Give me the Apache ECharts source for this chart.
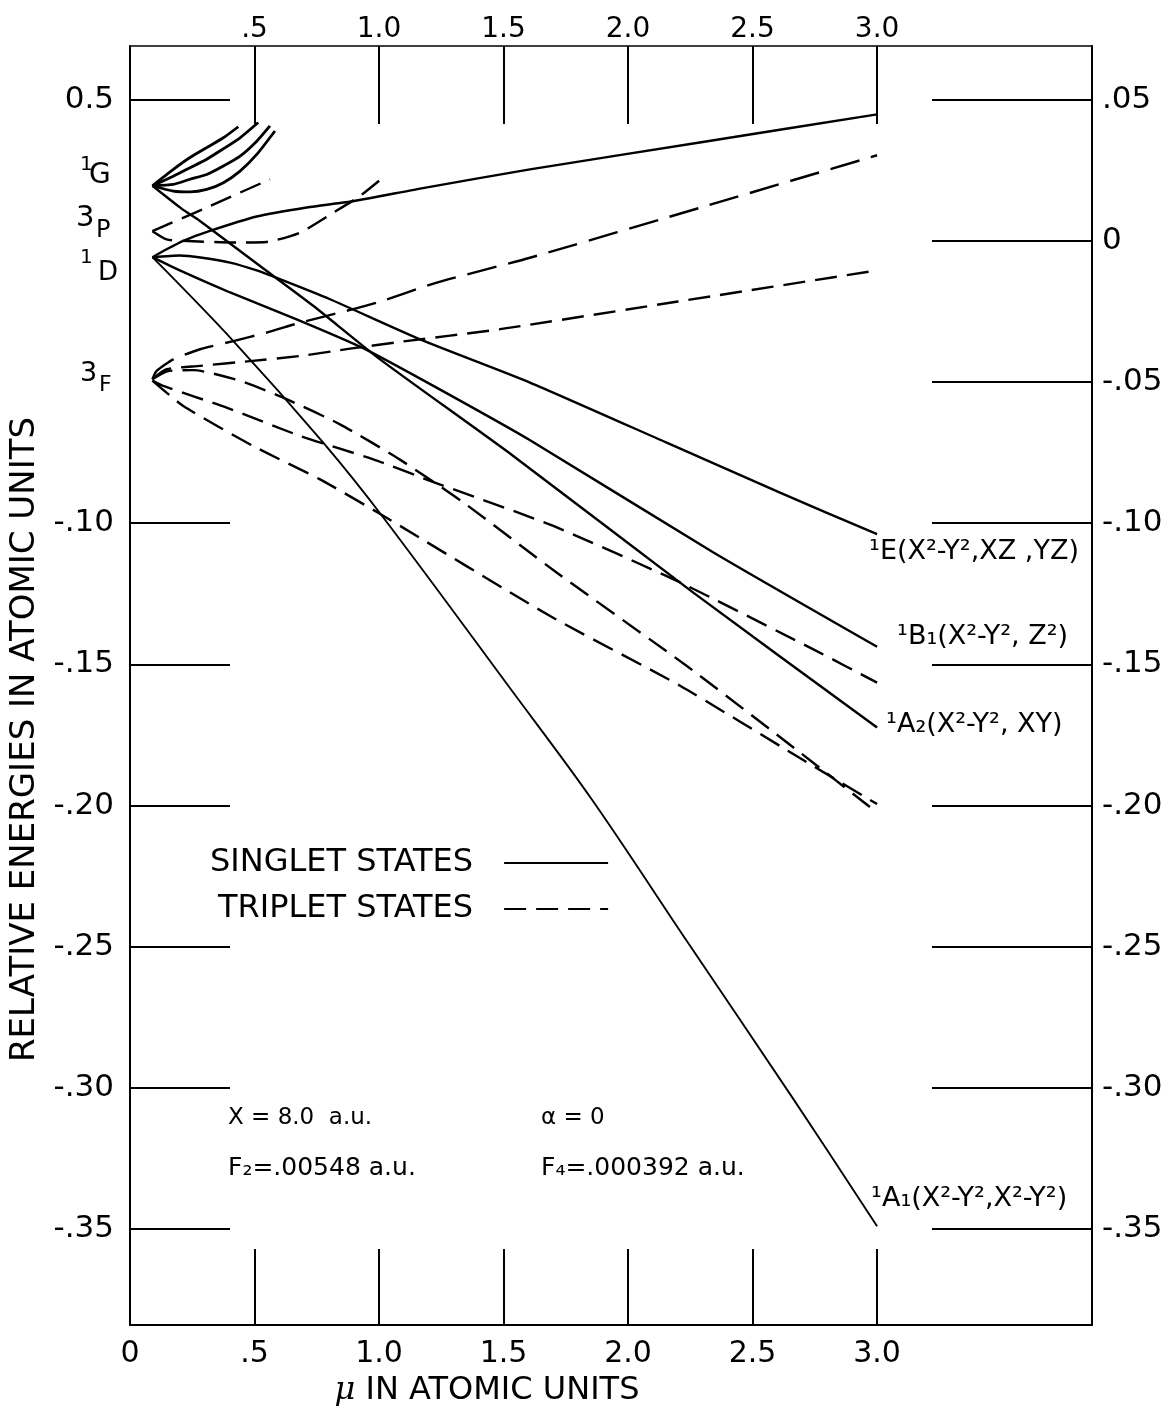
<!DOCTYPE html>
<html>
<head>
<meta charset="utf-8">
<script src="https://cdn.jsdelivr.net/npm/echarts@6/dist/echarts.min.js"></script>
<style>
  html, body { margin: 0; background: #fff; }
  #chart { width: 1173px; height: 1418px; }
</style>
</head>
<body>
<div id="chart"></div>
<script>
// axis ranges (frame of the figure)
const muMin = 0, muMax = 3.863;
const eMin = -0.384, eMax = 0.069;

const xTickValues = [0.5, 1.0, 1.5, 2.0, 2.5, 3.0];
const xLabelValues = [0, 0.5, 1.0, 1.5, 2.0, 2.5, 3.0];
const leftTickValues = [0.05, -0.10, -0.15, -0.20, -0.25, -0.30, -0.35];
const rightTickValues = [0.05, 0, -0.05, -0.10, -0.15, -0.20, -0.25, -0.30, -0.35];

// free ion levels (left side labels)
const levelNames = ['1G', '3P', '1D', '3F'];
const levelValues = [0.0195, 0.0034, -0.0058, -0.049];

// singlet states  [mu, energy]
const gFanA = [[0.09, 0.0195], [0.174, 0.0253], [0.241, 0.0295], [0.308, 0.033], [0.375, 0.0365], [0.435, 0.0404]];
const gFanB = [[0.09, 0.0195], [0.174, 0.0229], [0.241, 0.0259], [0.308, 0.0289], [0.375, 0.0326], [0.442, 0.0365], [0.515, 0.0419]];
const gFanC = [[0.09, 0.0195], [0.174, 0.020], [0.241, 0.0218], [0.308, 0.0235], [0.375, 0.0265], [0.442, 0.030], [0.509, 0.0353], [0.562, 0.0407]];
const gFanD = [[0.09, 0.0195], [0.174, 0.0176], [0.241, 0.0173], [0.308, 0.0182], [0.375, 0.0206], [0.442, 0.0247], [0.509, 0.0306], [0.582, 0.0389]];
const dRise = [[0.09, -0.0058], [0.147, -0.003], [0.214, 0.0], [0.321, 0.0035], [0.509, 0.0086], [0.71, 0.0118], [0.9, 0.0141], [1.165, 0.0185], [1.606, 0.0253], [2.3, 0.035], [3.0, 0.0448]];
const stateE = [[0.09, -0.0058], [0.2, -0.0052], [0.29, -0.006], [0.402, -0.0077], [0.509, -0.0105], [0.602, -0.0136], [0.803, -0.0207], [1.165, -0.0349], [1.606, -0.0502], [2.155, -0.0715], [2.61, -0.0892], [3.0, -0.1039]];
const stateB1 = [[0.09, -0.0058], [0.2, -0.0105], [0.402, -0.0183], [0.669, -0.0278], [0.936, -0.038], [1.2, -0.0505], [1.6, -0.0703], [2.343, -0.1104], [3.0, -0.1438]];
const stateA2 = [[0.09, 0.0195], [0.207, 0.0114], [0.281, 0.0070], [0.549, -0.0107], [0.737, -0.0231], [1.004, -0.042], [1.539, -0.0762], [2.262, -0.1246], [3.0, -0.1724]];
const stateA1 = [[0.09, -0.0058], [0.415, -0.0355], [0.776, -0.0715], [1.017, -0.098], [1.539, -0.160], [1.854, -0.1978], [2.236, -0.248], [2.664, -0.304], [3.0, -0.349]];

// triplet states  [mu, energy]
const pRise = [[0.09, 0.0034], [0.308, 0.0118], [0.562, 0.0218]];
const pBend = [[0.09, 0.0034], [0.147, 0.0005], [0.21, 0.0], [0.415, -0.0006], [0.549, -0.0004], [0.683, 0.0029], [0.817, 0.010], [0.924, 0.0159], [1.031, 0.0235]];
const fUpper = [[0.09, -0.049], [0.107, -0.0461], [0.174, -0.042], [0.281, -0.0384], [0.415, -0.0355], [0.549, -0.0325], [0.683, -0.029], [0.843, -0.0254], [0.991, -0.0219], [1.232, -0.0148], [1.606, -0.006], [2.3, 0.012], [3.0, 0.0303]];
const fMiddle = [[0.09, -0.049], [0.147, -0.0455], [0.281, -0.0443], [0.482, -0.0426], [0.683, -0.0408], [0.884, -0.0382], [1.084, -0.0358], [1.486, -0.0313], [2.2, -0.0215], [3.0, -0.0105]];
const fLowA = [[0.09, -0.049], [0.15, -0.0462], [0.254, -0.0458], [0.442, -0.0496], [0.629, -0.0561], [0.843, -0.065], [1.084, -0.0775], [1.339, -0.0927], [1.713, -0.1175], [2.236, -0.1506], [2.69, -0.1812], [3.0, -0.2025]];
const fLowB = [[0.09, -0.0495], [0.134, -0.0514], [0.388, -0.0591], [0.683, -0.0691], [0.977, -0.0774], [1.205, -0.085], [1.7, -0.101], [2.209, -0.121], [2.744, -0.1447], [3.0, -0.1565]];
const fLowC = [[0.09, -0.0495], [0.214, -0.0585], [0.495, -0.0727], [0.763, -0.0845], [1.0, -0.0965], [1.687, -0.1329], [2.209, -0.1576], [2.69, -0.1832], [3.0, -0.1995]];

const FONT = 'DejaVu Sans';
const SINGLET = 'SINGLET STATES';
const TRIPLET = 'TRIPLET STATES';

function near(a, b) { return Math.abs(a - b) < 1e-9; }
function fmtMu(v) {
  if (near(v, 0)) return '0';
  if (v < 1) return '.5';
  return v.toFixed(1);
}
function fmtE(v) {
  if (near(v, 0)) return '0';
  const s = Math.abs(v).toFixed(2).slice(1);
  return v < 0 ? '-' + s : s;
}
function fmtLeft(v) {
  if (near(v, 0.05)) return '0.5';   // printed that way on the original
  return fmtE(v);
}

function curve(name, data, dash, extra) {
  return Object.assign({
    name: name,
    type: 'line',
    data: data,
    symbol: 'none',
    smooth: 0.2,
    silent: true,
    lineStyle: { color: '#000', width: 2.4, type: dash ? [22, 10] : 'solid' },
    itemStyle: { color: '#000' }
  }, extra || {});
}

function endLabel(text, offset) {
  return {
    endLabel: {
      show: true,
      formatter: text,
      distance: 0,
      offset: offset,
      color: '#000',
      fontSize: 27,
      fontFamily: FONT
    }
  };
}

const chart = echarts.init(document.getElementById('chart'));

const option = {
  animation: false,
  backgroundColor: '#fff',
  textStyle: { fontFamily: FONT, color: '#000' },
  grid: { left: 130, right: 81, top: 46, bottom: 93 },
  legend: {
    data: [SINGLET, TRIPLET],
    orient: 'vertical',
    left: 205,
    top: 842,
    align: 'right',
    itemWidth: 104,
    itemHeight: 4,
    itemGap: 14,
    selectedMode: false,
    itemStyle: { opacity: 0 },
    textStyle: { fontSize: 32, color: '#000', fontFamily: FONT, padding: [0, 26, 0, 0] }
  },
  xAxis: [
    {
      type: 'value',
      position: 'bottom',
      min: muMin,
      max: muMax,
      name: '{mu|μ} IN ATOMIC UNITS',
      nameLocation: 'middle',
      nameGap: 50,
      nameTextStyle: {
        fontSize: 32, color: '#000', fontFamily: FONT,
        padding: [0, 248, 0, 0],
        rich: { mu: { fontSize: 32, fontStyle: 'italic', fontFamily: 'DejaVu Serif', color: '#000' } }
      },
      axisLine: { show: true, onZero: false, lineStyle: { color: '#000', width: 2 } },
      axisTick: { show: true, inside: true, length: 76, customValues: xTickValues, lineStyle: { color: '#000', width: 2 } },
      axisLabel: { customValues: xLabelValues, formatter: fmtMu, fontSize: 30, color: '#000', margin: 14, fontFamily: FONT },
      splitLine: { show: false }
    },
    {
      type: 'value',
      position: 'top',
      min: muMin,
      max: muMax,
      axisLine: { show: true, onZero: false, lineStyle: { color: '#000', width: 1.5 } },
      axisTick: { show: true, inside: true, length: 78, customValues: xTickValues, lineStyle: { color: '#000', width: 2 } },
      axisLabel: { customValues: xTickValues, formatter: fmtMu, fontSize: 28, color: '#000', margin: 2, fontFamily: FONT },
      splitLine: { show: false }
    }
  ],
  yAxis: [
    {
      type: 'value',
      position: 'left',
      min: eMin,
      max: eMax,
      name: 'RELATIVE ENERGIES IN ATOMIC UNITS',
      nameLocation: 'middle',
      nameGap: 88,
      nameTextStyle: { fontSize: 34, color: '#000', fontFamily: FONT, padding: [0, 108, 0, 0] },
      axisLine: { show: true, onZero: false, lineStyle: { color: '#000', width: 2 } },
      axisTick: { show: true, inside: true, length: 100, customValues: leftTickValues, lineStyle: { color: '#000', width: 2 } },
      axisLabel: { customValues: leftTickValues, formatter: fmtLeft, fontSize: 31, color: '#000', margin: 16, fontFamily: FONT },
      splitLine: { show: false }
    },
    {
      type: 'value',
      position: 'right',
      min: eMin,
      max: eMax,
      axisLine: { show: true, onZero: false, lineStyle: { color: '#000', width: 2 } },
      axisTick: { show: true, inside: true, length: 160, customValues: rightTickValues, lineStyle: { color: '#000', width: 2 } },
      axisLabel: { customValues: rightTickValues, formatter: fmtE, fontSize: 31, color: '#000', margin: 10, fontFamily: FONT },
      splitLine: { show: false }
    }
  ],
  series: [
    curve(SINGLET, gFanA, false, { lineStyle: { color: '#000', width: 2.8 } }),
    curve(SINGLET, gFanB, false, { lineStyle: { color: '#000', width: 2.8 } }),
    curve(SINGLET, gFanC, false, { lineStyle: { color: '#000', width: 2.8 } }),
    curve(SINGLET, gFanD, false, { lineStyle: { color: '#000', width: 2.8 } }),
    curve(SINGLET, dRise, false),
    curve(SINGLET, stateE, false, endLabel('¹E(X²-Y²,XZ ,YZ)', [-8, 18])),
    curve(SINGLET, stateB1, false, endLabel('¹B₁(X²-Y², Z²)', [20, -10])),
    curve(SINGLET, stateA2, false, endLabel('¹A₂(X²-Y², XY)', [9, -3])),
    curve(SINGLET, stateA1, false, Object.assign({ smooth: 0.35, lineStyle: { color: '#000', width: 1.9 } }, endLabel('¹A₁(X²-Y²,X²-Y²)', [-6, -27]))),
    curve(TRIPLET, pRise, true),
    curve(TRIPLET, pBend, true),
    curve(TRIPLET, fUpper, true, { lineStyle: { color: '#000', width: 2.4, type: [30, 12] } }),
    curve(TRIPLET, fMiddle, true),
    curve(TRIPLET, fLowA, true),
    curve(TRIPLET, fLowB, true),
    curve(TRIPLET, fLowC, true)
  ]
};

chart.setOption(option);

// level labels at the left: multiplicity raised, letter below, placed from the axis scale
const levelLayout = [
  { supX: 80, supDy: -21, supSize: 20, mainX: 89, mainDy: -10, mainSize: 28 },
  { supX: 76, supDy: -13, supSize: 29, mainX: 96, mainDy: 0, mainSize: 24 },
  { supX: 80, supDy: 1, supSize: 20, mainX: 98, mainDy: 16, mainSize: 26 },
  { supX: 80, supDy: -5, supSize: 27, mainX: 99, mainDy: 6, mainSize: 22 }
];
const graphics = [];
levelNames.forEach((nm, i) => {
  const y = chart.convertToPixel({ yAxisIndex: 0 }, levelValues[i]);
  const L = levelLayout[i];
  graphics.push({ type: 'text', x: L.supX, y: y + L.supDy, style: { text: nm[0], fontSize: L.supSize, fontFamily: FONT, fill: '#000', verticalAlign: 'middle' } });
  graphics.push({ type: 'text', x: L.mainX, y: y + L.mainDy, style: { text: nm[1], fontSize: L.mainSize, fontFamily: FONT, fill: '#000', verticalAlign: 'middle' } });
});
const notes = [
  { text: 'X = 8.0  a.u.', x: 228, y: 1118, size: 23 },
  { text: 'F₂=.00548 a.u.', x: 228, y: 1168, size: 25 },
  { text: 'α = 0', x: 541, y: 1118, size: 23 },
  { text: 'F₄=.000392 a.u.', x: 541, y: 1168, size: 25 }
];
notes.forEach(n => {
  graphics.push({ type: 'text', x: n.x, y: n.y, style: { text: n.text, fontSize: n.size, fontFamily: FONT, fill: '#000', verticalAlign: 'middle' } });
});
chart.setOption({ graphic: graphics });
</script>
</body>
</html>
